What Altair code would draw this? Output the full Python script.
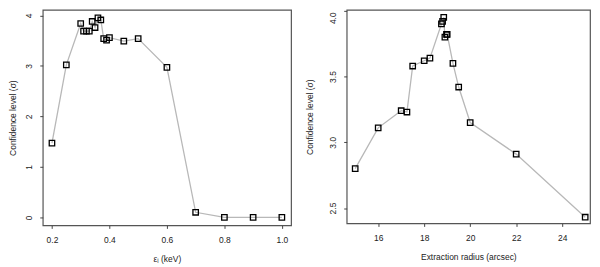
import altair as alt
import pandas as pd

# Left panel: confidence level vs epsilon_I (keV)
eps = [0.20, 0.25, 0.30, 0.31, 0.32, 0.33, 0.34, 0.35, 0.36, 0.37, 0.38, 0.39, 0.40,
       0.45, 0.50, 0.60, 0.70, 0.80, 0.90, 1.00]
conf_eps = [1.47, 3.02, 3.84, 3.69, 3.69, 3.69, 3.88, 3.76, 3.95, 3.91, 3.54, 3.51, 3.56,
            3.49, 3.54, 2.97, 0.10, 0.00, 0.00, 0.00]

# Right panel: confidence level vs extraction radius (arcsec)
radius = [15.0, 16.0, 17.0, 17.25, 17.5, 18.0, 18.25, 18.75, 18.8, 18.85, 18.9, 18.97,
          19.0, 19.25, 19.5, 20.0, 22.0, 25.0]
conf_rad = [2.80, 3.11, 3.24, 3.23, 3.58, 3.62, 3.64, 3.90, 3.92, 3.95, 3.80, 3.82,
            3.82, 3.60, 3.42, 3.15, 2.91, 2.43]

left_ticks_x = [0.2, 0.4, 0.6, 0.8, 1.0]
left_ticks_y = [0, 1, 2, 3, 4]
right_ticks_x = [16, 18, 20, 22, 24]
right_ticks_y = [2.5, 3.0, 3.5, 4.0]

df_l = pd.DataFrame({"x": eps, "y": conf_eps})
df_r = pd.DataFrame({"x": radius, "y": conf_rad})

FONT = "Liberation Sans"
AX = dict(grid=False, domain=False, ticks=True, tickSize=3, tickColor="#444",
          tickWidth=1, labelFont=FONT, labelFontSize=8.5, labelColor="#222",
          titleFont=FONT, titleFontSize=8.5, titleFontWeight="normal", titleColor="#222")


def panel(df, xdom, ydom, xt, yt, xfmt, yfmt, xtitle, ytitle, w, h, title_x, top_offset):
    xaxis = alt.Axis(values=xt, format=xfmt, labelPadding=7, title=xtitle,
                     titleY=33, titleBaseline="middle", **AX)
    yaxis = alt.Axis(values=yt, format=yfmt, labelAngle=270, labelAlign="center",
                     labelBaseline="bottom", labelPadding=6, title=ytitle,
                     labelOffset=alt.condition(f"datum.value == {yt[-1]}",
                                               alt.value(top_offset), alt.value(0)),
                     titleX=title_x, titleBaseline="middle", titleAngle=270, **AX)
    x = alt.X("x:Q", scale=alt.Scale(domain=xdom, nice=False, zero=False), axis=xaxis)
    y = alt.Y("y:Q", scale=alt.Scale(domain=ydom, nice=False, zero=False), axis=yaxis)
    base = alt.Chart(df).encode(x=x, y=y)
    line = base.mark_line(color="#b8b8b8", strokeWidth=1.3)
    pts = base.mark_point(shape="square", filled=False, color="black",
                          strokeWidth=1.3, size=30, opacity=1)
    return alt.layer(line, pts).properties(width=w, height=h)


left = panel(df_l, [0.168, 1.032], [-0.16, 4.11], left_ticks_x, left_ticks_y,
             ".1f", "d", "εᵢ  (keV)", "Confidence level  (σ)", 250, 217, -30, 0)
right = panel(df_r, [14.63, 25.21], [2.383, 4.007], right_ticks_x, right_ticks_y,
              "d", ".1f", "Extraction radius (arcsec)", "Confidence level  (σ)", 245, 215,
              -37, 7)

chart = alt.hconcat(left, right, spacing=13).properties(padding=0).configure_view(
    stroke="#555", strokeWidth=1.2
)

chart.save("out.html", embed_options={"renderer": "svg", "actions": False})
